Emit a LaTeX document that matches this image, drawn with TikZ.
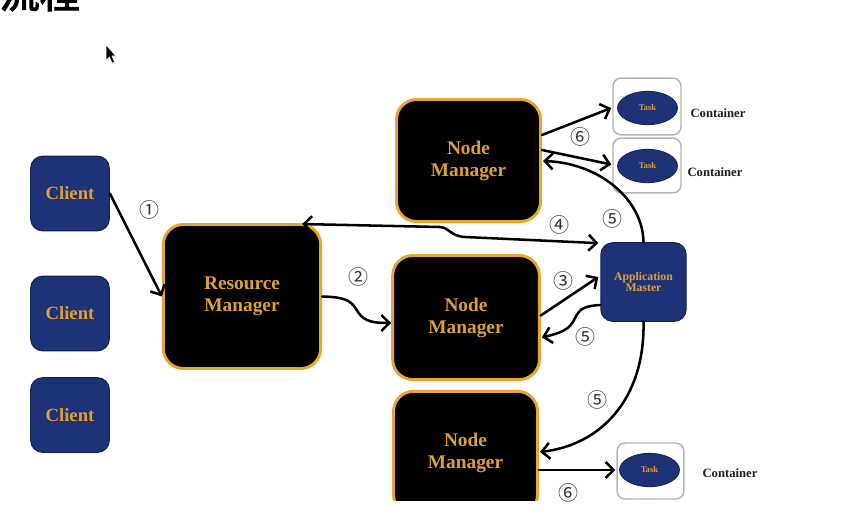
\documentclass[tikz,border=0pt]{standalone}
\usepackage{fontspec}
\setmainfont{Liberation Serif}
\newfontfamily\cjkb[FakeBold=3]{Noto Sans CJK SC}
\newfontfamily\circf{Noto Sans CJK SC}
\usetikzlibrary{arrows.meta,calc,shapes.geometric}
\definecolor{navy}{HTML}{1E3278}
\definecolor{navyb}{HTML}{14224F}
\definecolor{goldt}{HTML}{DDA035}
\definecolor{goldb}{HTML}{E8A62C}
\definecolor{boxgray}{HTML}{B4B4B4}
\definecolor{labelc}{HTML}{1C1C2E}
\tikzset{
  client/.style={rectangle, rounded corners=9pt, fill=navy, draw=navyb, line width=0.8pt,
    text=goldt, font=\bfseries\fontsize{14}{16}\selectfont,
    minimum width=59pt, minimum height=56pt, inner sep=0pt},
  mgr/.style={rectangle, rounded corners=15pt, fill=black, draw=goldb, line width=2.2pt,
    text=goldt, font=\bfseries\fontsize{14.5}{16.5}\selectfont, align=center, inner sep=0pt},
  appm/.style={rectangle, rounded corners=9pt, fill=navy, draw=navyb, line width=0.8pt,
    text=goldt, font=\bfseries\fontsize{8.8}{8.8}\selectfont, align=center,
    minimum width=64pt, minimum height=59pt, inner sep=0pt},
  cbox/.style={rectangle, rounded corners=6pt, draw=boxgray, line width=1.1pt, fill=white, inner sep=0pt},
  task/.style={ellipse, fill=navy, draw=navyb, line width=0.6pt, text=goldt,
    font=\bfseries\fontsize{6.5}{7}\selectfont, minimum width=45pt, minimum height=25pt, inner sep=0pt},
  clabel/.style={text=labelc, font=\bfseries\fontsize{9.5}{11}\selectfont, inner sep=0pt},
  num/.style={text=black!80, font=\circf\fontsize{15}{15}\selectfont, inner sep=0pt},
  conn/.style={line width=1.9pt, line cap=round, line join=round,
    -{Straight Barb[length=6pt,width=12pt]}},
  conn2/.style={line width=1.9pt, line cap=round, line join=round,
    {Straight Barb[length=6pt,width=12pt]}-{Straight Barb[length=6pt,width=12pt]}},
}
\begin{document}
\begin{tikzpicture}[x=0.75pt,y=-0.75pt]
\useasboundingbox (0,0) rectangle (855,526);
\clip (0,0) rectangle (855,526);
\fill[white] (0,0) rectangle (855,526);

% title (cut off at the top)
\node[anchor=base east, inner sep=0pt, font=\cjkb\fontsize{30}{30}\selectfont] (title) at (80,8) {流程};

% mouse cursor
\filldraw[fill=black, draw=white, line width=0.4pt] (106,45) -- (106,60) -- (109.5,57) -- (112,63) -- (114.5,62) -- (112,56) -- (116,56) -- cycle;

% clients
\node[client] (c1) at (70,193.5) {Client};
\node[client] (c2) at (70,313.5) {Client};
\node[client] (c3) at (70,415) {Client};

% managers
\node[mgr, minimum width=118pt, minimum height=108pt] (rm) at (242,296.5) {Resource\\Manager};
\node[mgr, minimum width=108pt, minimum height=91.5pt] (nm1) at (468.5,160.5) {Node\\Manager};
\node[mgr, minimum width=110pt, minimum height=93pt] (nm2) at (466,317.5) {Node\\Manager};
\begin{scope}
  \clip (370,370) rectangle (560,500);
  \node[mgr, minimum width=108pt, minimum height=92.5pt] (nm3) at (465.5,453) {Node\\Manager};
\end{scope}

% application master
\node[appm] (am) at (643.5,282) {Application\\Master};

% containers
\node[cbox, minimum width=51pt, minimum height=42.5pt] (b1) at (647,106.5) {};
\node[task] (e1) at (647.5,108) {Task};
\node[cbox, minimum width=51pt, minimum height=41pt] (b2) at (647,165.5) {};
\node[task] (e2) at (647.5,166) {Task};
\node[cbox, minimum width=50pt, minimum height=42pt] (b3) at (650.5,471) {};
\node[task] (e3) at (649.5,470) {Task};

\node[clabel] (l1) at (718,113.5) {Container};
\node[clabel] (l2) at (715,172) {Container};
\node[clabel] (l3) at (730,473.5) {Container};

% connectors
\draw[conn] (c1.east) -- (rm.west);
\draw[conn] (rm.east) .. controls (350,297) and (352,303) .. (358,312)
  .. controls (364,322) and (375,323) .. ($(nm2.west)+(0,5.5)$);
\draw[conn2] ($(rm.north east)+(-20,1)$) -- (440,227) .. controls (450,228) and (450,236) .. (465,237)
  -- ($(am.north west)+(-2,1)$);
\draw[conn] ($(nm2.east)+(0,-2)$) -- ($(am.west)+(-2,-5)$);
\draw[conn] ($(am.west)+(0,23)$) .. controls (585,306) and (580,308) .. (575,318)
  .. controls (570,330) and (560,333) .. ($(nm2.east)+(1,20)$);
\draw[conn] (am.north) .. controls (643,200) and (600,163) .. ($(nm1.east)+(1,0.5)$);
\draw[conn] (am.south) .. controls (645,400) and (600,445) .. ($(nm3.east)+(1,-1)$);
\draw[conn] ($(nm1.east)+(0,-25.5)$) -- ($(b1.west)+(-1,1.5)$);
\draw[conn] ($(nm1.east)+(0,-10.5)$) -- ($(b2.west)+(-1,-1)$);
\draw[conn] ($(nm3.east)+(0,17)$) -- ($(b3.west)+(-1,-1)$);

% step numbers
\node[num] (n1) at (149,210) {①};
\node[num] (n2) at (358,277) {②};
\node[num] (n3) at (563,281) {③};
\node[num] (n4) at (559,225) {④};
\node[num] (n5a) at (612,219) {⑤};
\node[num] (n5b) at (585,337) {⑤};
\node[num] (n5c) at (597,400) {⑤};
\node[num] (n6a) at (580,137) {⑥};
\node[num] (n6b) at (568,493) {⑥};
\end{tikzpicture}
\end{document}
